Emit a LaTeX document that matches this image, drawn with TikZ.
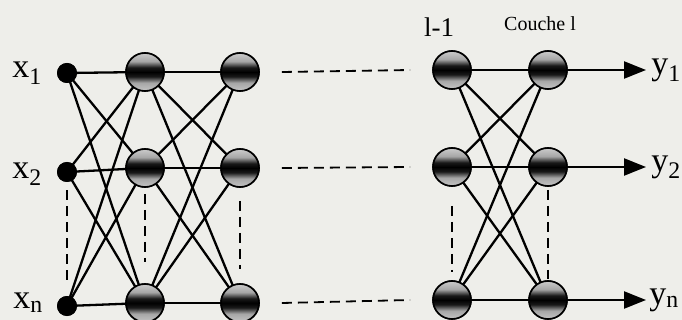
\documentclass[tikz,border=0pt]{standalone}
\usepackage{fontspec}
\setmainfont{Liberation Serif}
\usetikzlibrary{arrows.meta}
\definecolor{paper}{RGB}{238,238,234}
\pgfdeclareverticalshading{ball}{100bp}{color(0bp)=(gray!45); color(25bp)=(gray!45); color(36bp)=(gray!70); color(44bp)=(black!90); color(50bp)=(black); color(56bp)=(black!90); color(64bp)=(gray!70); color(75bp)=(gray!40); color(100bp)=(gray!40)}
\tikzset{
  neuron/.style={circle, draw=black, line width=1.6pt, minimum size=38pt, inner sep=0pt, shading=ball},
  inp/.style={circle, fill=black, minimum size=20pt, inner sep=0pt},
  link/.style={line width=2.3pt},
  dsh/.style={line width=1.8pt, dash pattern=on 10pt off 6pt},
  lbl/.style={font=\fontsize{34}{38}\selectfont, inner sep=0pt},
  small/.style={font=\fontsize{20}{24}\selectfont, inner sep=0pt},
  mid/.style={font=\fontsize{27}{30}\selectfont, inner sep=0pt},
  arr/.style={line width=2.3pt, -{Triangle[length=22pt,width=17pt]}}
}
\begin{document}
\begin{tikzpicture}[x=1pt,y=-1pt]
\fill[paper] (0,0) rectangle (682,320);
\useasboundingbox (0,0) rectangle (682,320);
% input nodes
\node[inp] (i1) at (67,73) {};
\node[inp] (i2) at (67,172) {};
\node[inp] (i3) at (67,306) {};
% layer nodes
\node[neuron] (a1) at (145,72) {};
\node[neuron] (a2) at (145,168) {};
\node[neuron] (a3) at (145,303) {};
\node[neuron] (b1) at (240,72) {};
\node[neuron] (b2) at (240,168) {};
\node[neuron] (b3) at (240,303) {};
\node[neuron] (c1) at (452,70) {};
\node[neuron] (c2) at (452,167) {};
\node[neuron] (c3) at (452,300) {};
\node[neuron] (d1) at (548,70) {};
\node[neuron] (d2) at (548,167) {};
\node[neuron] (d3) at (548,300) {};
% connections
\foreach \s in {i1,i2,i3}{\foreach \t in {a1,a2,a3}{\draw[link] (\s.center) -- (\t.center);}}
\foreach \s in {a1,a2,a3}{\foreach \t in {b1,b2,b3}{\draw[link] (\s.center) -- (\t.center);}}
\foreach \s in {c1,c2,c3}{\foreach \t in {d1,d2,d3}{\draw[link] (\s.center) -- (\t.center);}}
% redraw nodes on top
\foreach \p in {{145,72},{145,168},{145,303},{240,72},{240,168},{240,303},{452,70},{452,167},{452,300},{548,70},{548,167},{548,300}}{\node[neuron] at (\p) {};}
\foreach \p in {{67,73},{67,172},{67,306}}{\node[inp] at (\p) {};}
% outputs
\coordinate (o1) at (646,70);
\coordinate (o2) at (646,167);
\coordinate (o3) at (646,300);
\draw[arr] (d1.east) -- (o1);
\draw[arr] (d2.east) -- (o2);
\draw[arr] (d3.east) -- (o3);
% horizontal dashed
\draw[dsh] ([xshift=22pt]b1.east) -- ([xshift=-22pt]c1.west);
\draw[dsh] ([xshift=22pt]b2.east) -- ([xshift=-22pt]c2.west);
\draw[dsh] ([xshift=22pt]b3.east) -- ([xshift=-22pt]c3.west);
% vertical dashed
\draw[dsh] ([yshift=-8pt]i2.south) -- ([yshift=16pt]i3.north);
\draw[dsh] ([yshift=-6pt]a2.south) -- ([yshift=21pt]a3.north);
\draw[dsh] ([yshift=-13pt]b2.south) -- ([yshift=14pt]b3.north);
\draw[dsh] ([yshift=-19pt]c2.south) -- ([yshift=8pt]c3.north);
\draw[dsh] ([yshift=-3pt]d2.south) -- ([yshift=1pt]d3.north);
% labels
\node[lbl] (lx1) at (27,73) {x\textsubscript{1}};
\node[lbl] (lx2) at (27,174) {x\textsubscript{2}};
\node[lbl] (lxn) at (28,303) {x\textsubscript{n}};
\node[lbl] (ly1) at (666,70) {y\textsubscript{1}};
\node[lbl] (ly2) at (666,167) {y\textsubscript{2}};
\node[lbl] (lyn) at (664,300) {y\textsubscript{n}};
\node[mid] (ll1) at (439,27) {l-1};
\node[small] (lc) at (540,24) {Couche l};
\end{tikzpicture}
\end{document}
